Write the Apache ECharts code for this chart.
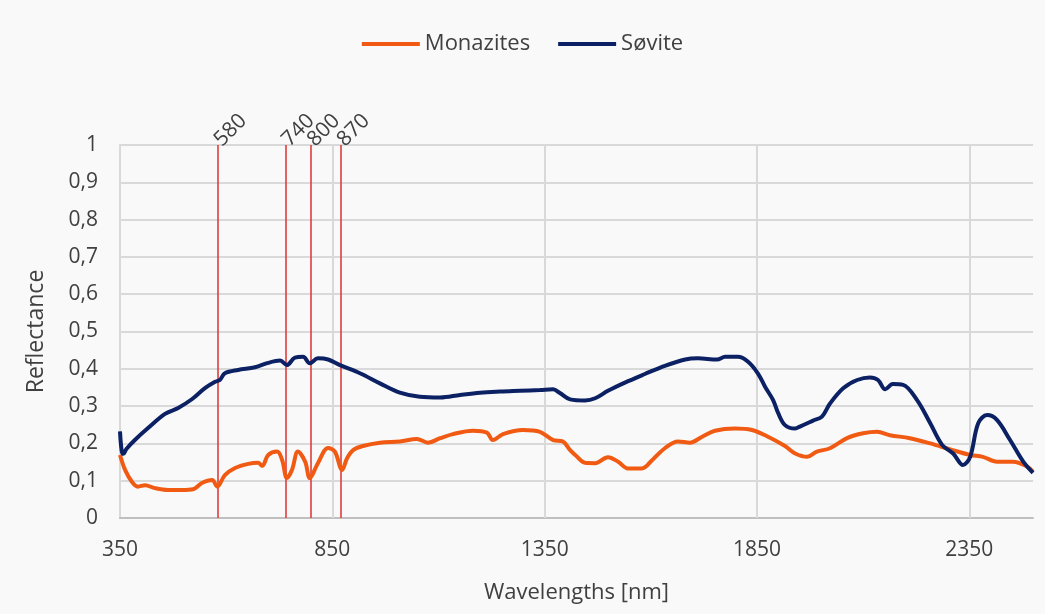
<!DOCTYPE html>
<html>
<head>
<meta charset="utf-8">
<script src="https://cdn.jsdelivr.net/npm/echarts@6/dist/echarts.min.js"></script>
<style>
html,body{margin:0;padding:0;background:#f9f9f9;}
#chart{width:1045px;height:614px;}
</style>
</head>
<body>
<div id="chart"></div>
<script>
// Monazites spectrum
const monaziteWl = [350,362,378,392,409,432,463,496,522,543,567,579,597,621,652,675,685,699,720,732,743,755,769,786,797,816,840,856,873,885,899,922,962,1009,1049,1075,1104,1134,1181,1214,1228,1252,1299,1339,1370,1393,1410,1422,1445,1469,1499,1523,1546,1579,1603,1633,1664,1692,1721,1751,1798,1838,1876,1916,1940,1968,1991,2022,2062,2100,2133,2163,2210,2258,2305,2352,2382,2415,2453,2486,2500];
const monaziteR = [0.169,0.129,0.097,0.084,0.088,0.080,0.075,0.075,0.077,0.094,0.102,0.084,0.115,0.134,0.145,0.148,0.140,0.169,0.178,0.155,0.107,0.129,0.178,0.151,0.107,0.147,0.188,0.178,0.129,0.161,0.182,0.193,0.202,0.205,0.212,0.202,0.214,0.225,0.234,0.229,0.209,0.225,0.236,0.231,0.209,0.205,0.182,0.169,0.148,0.147,0.163,0.151,0.133,0.133,0.155,0.187,0.205,0.202,0.218,0.234,0.240,0.236,0.218,0.193,0.173,0.164,0.178,0.187,0.214,0.227,0.231,0.222,0.214,0.200,0.184,0.169,0.164,0.151,0.151,0.138,0.124];
// Søvite spectrum
const soviteWl = [350,354,358,365,385,416,456,487,520,550,574,585,597,628,668,699,727,743,762,781,797,816,840,868,915,962,1009,1056,1104,1151,1198,1245,1292,1339,1370,1386,1410,1445,1469,1499,1539,1586,1633,1681,1711,1756,1775,1805,1829,1852,1869,1888,1900,1916,1940,1951,1982,2003,2022,2053,2086,2116,2135,2152,2170,2194,2227,2258,2286,2312,2335,2352,2371,2392,2415,2446,2477,2500];
const soviteR = [0.232,0.180,0.172,0.185,0.209,0.241,0.279,0.295,0.319,0.348,0.365,0.370,0.388,0.397,0.404,0.416,0.422,0.410,0.430,0.432,0.415,0.428,0.425,0.410,0.388,0.361,0.336,0.325,0.323,0.330,0.336,0.339,0.341,0.343,0.345,0.335,0.318,0.315,0.321,0.341,0.363,0.386,0.408,0.425,0.428,0.425,0.432,0.432,0.419,0.388,0.352,0.316,0.281,0.249,0.240,0.245,0.261,0.272,0.307,0.348,0.370,0.377,0.370,0.345,0.359,0.357,0.316,0.254,0.196,0.173,0.142,0.164,0.254,0.276,0.263,0.209,0.151,0.121];
// Marked wavelengths (red lines)
const markerWl = [580,740,800,870];
// Axis ticks
const xTickValues = [350,850,1350,1850,2350];
const xGridValues = [850,1350,1850,2350];

const zip = (xs, ys) => xs.map((x, i) => [x, ys[i]]);
const font = 'Open Sans';
const txt = '#404040';

const chart = echarts.init(document.getElementById('chart'), null, {renderer:'canvas'});
chart.setOption({
  backgroundColor: '#f9f9f9',
  textStyle: {fontFamily: font},
  animation: false,
  legend: {
    data: ['Monazites', 'Søvite'],
    top: 28, left: 'center',
    icon: 'rect',
    itemWidth: 58, itemHeight: 4, itemGap: 28,
    textStyle: {fontSize: 22, color: txt, fontFamily: font}
  },
  grid: {left: 120, right: 12, top: 145, bottom: 96},
  xAxis: [{
    type: 'value', min: 350, max: 2500,
    splitLine: {show: false},
    axisTick: {show: false},
    axisLine: {show: true, lineStyle: {color: '#bfbfbf', width: 2}},
    axisLabel: {customValues: xTickValues, fontSize: 21, color: txt, margin: 22, fontFamily: font,
      formatter: v => String(v)},
    name: 'Wavelengths [nm]', nameLocation: 'middle', nameGap: 64,
    nameTextStyle: {fontSize: 22, color: txt, fontFamily: font}
  }, {
    type: 'value', position: 'top', min: 350, max: 2500,
    axisLine: {show: false}, axisTick: {show: false}, splitLine: {show: false},
    axisLabel: {customValues: markerWl, rotate: -45, fontSize: 21, color: txt, margin: 2, fontFamily: font,
      formatter: v => String(v)}
  }],
  yAxis: {
    type: 'value', min: 0, max: 1, interval: 0.1,
    axisLine: {show: true, lineStyle: {color: '#d9d9d9', width: 2}},
    axisTick: {show: false},
    splitLine: {show: true, lineStyle: {color: '#d9d9d9', width: 2}},
    axisLabel: {
      fontSize: 21, color: txt, margin: 22, fontFamily: font,
      formatter: v => String(Math.round(v * 10) / 10).replace('.', ',')
    },
    name: 'Reflectance', nameLocation: 'middle', nameGap: 72, nameRotate: 90,
    nameTextStyle: {fontSize: 23, color: txt, fontFamily: font}
  },
  series: [{
    name: 'grid-v', type: 'line', data: [], z: 1, silent: true,
    markLine: {
      z: 1,
      silent: true, symbol: ['none', 'none'], animation: false,
      label: {show: false},
      lineStyle: {color: '#d9d9d9', width: 2, type: 'solid'},
      data: xGridValues.map(v => ({xAxis: v}))
    }
  }, {
    name: 'markers', type: 'line', data: [], z: 2, silent: true,
    markLine: {
      z: 2,
      silent: true, symbol: ['none', 'none'], animation: false,
      label: {show: false},
      lineStyle: {color: 'rgba(222,60,60,0.8)', width: 2, type: 'solid'},
      data: markerWl.map(v => ({xAxis: v}))
    }
  }, {
    name: 'Monazites', type: 'line', z: 3,
    data: zip(monaziteWl, monaziteR),
    symbol: 'none', smooth: 0.35,
    lineStyle: {color: '#f05a12', width: 4},
    itemStyle: {color: '#f05a12'}
  }, {
    name: 'Søvite', type: 'line', z: 4,
    data: zip(soviteWl, soviteR),
    symbol: 'none', smooth: 0.35,
    lineStyle: {color: '#0b2164', width: 4},
    itemStyle: {color: '#0b2164'}
  }]
});
</script>
</body>
</html>
